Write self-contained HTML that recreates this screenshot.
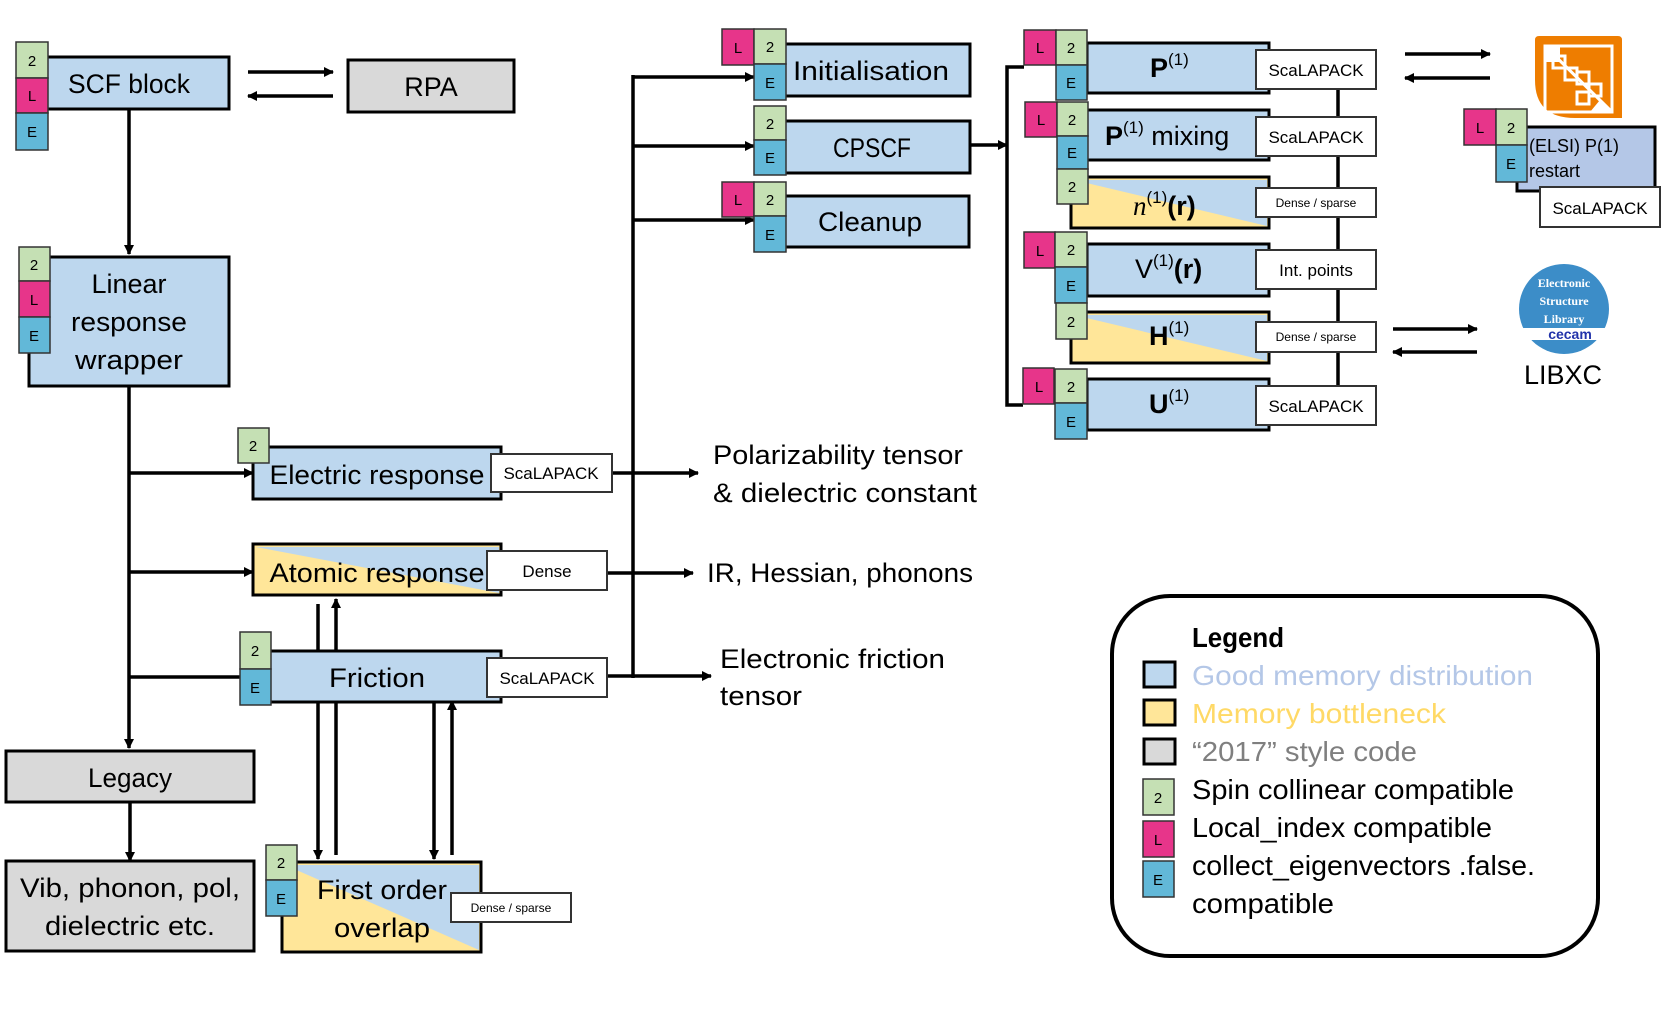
<!DOCTYPE html>
<html><head><meta charset="utf-8"><style>
html,body{margin:0;padding:0;background:#fff;}
svg{display:block;font-family:"Liberation Sans",sans-serif;}
</style></head><body>
<svg width="1661" height="1009" viewBox="0 0 1661 1009" xmlns="http://www.w3.org/2000/svg">
<defs>
<marker id="ah" markerWidth="10" markerHeight="10" refX="9" refY="5" orient="auto" markerUnits="userSpaceOnUse">
<path d="M0,0 L10,5 L0,10 z" fill="#000"/></marker>
</defs>
<g stroke="#000" stroke-width="3.5" fill="none">
<line x1="248" y1="72" x2="333" y2="72" marker-end="url(#ah)"/>
<line x1="333" y1="96" x2="248" y2="96" marker-end="url(#ah)"/>
<line x1="129" y1="109" x2="129" y2="254" marker-end="url(#ah)"/>
<line x1="129" y1="386" x2="129" y2="748" marker-end="url(#ah)"/>
<line x1="129" y1="473" x2="253" y2="473" marker-end="url(#ah)"/>
<line x1="129" y1="572" x2="253" y2="572" marker-end="url(#ah)"/>
<line x1="129" y1="677" x2="240" y2="677"/>
<line x1="130" y1="802" x2="130" y2="861" marker-end="url(#ah)"/>
<line x1="318" y1="604" x2="318" y2="651"/>
<line x1="336" y1="651" x2="336" y2="599" marker-end="url(#ah)"/>
<line x1="318" y1="702" x2="318" y2="859" marker-end="url(#ah)"/>
<line x1="336" y1="855" x2="336" y2="702"/>
<line x1="434" y1="702" x2="434" y2="859" marker-end="url(#ah)"/>
<line x1="452" y1="855" x2="452" y2="701" marker-end="url(#ah)"/>
<line x1="612" y1="473" x2="698" y2="473" marker-end="url(#ah)"/>
<line x1="607" y1="573" x2="693" y2="573" marker-end="url(#ah)"/>
<line x1="607" y1="676" x2="711" y2="676" marker-end="url(#ah)"/>
<line x1="633" y1="75" x2="633" y2="678"/>
<line x1="633" y1="77" x2="754" y2="77" marker-end="url(#ah)"/>
<line x1="633" y1="146" x2="754" y2="146" marker-end="url(#ah)"/>
<line x1="633" y1="220" x2="754" y2="220" marker-end="url(#ah)"/>
<line x1="970" y1="145" x2="1007" y2="145" marker-end="url(#ah)"/>
<polyline points="1024,67 1007,67 1007,405 1023,405"/>
<line x1="1338" y1="89" x2="1338" y2="386"/>
<line x1="1405" y1="54" x2="1490" y2="54" marker-end="url(#ah)"/>
<line x1="1490" y1="78" x2="1405" y2="78" marker-end="url(#ah)"/>
<line x1="1393" y1="329" x2="1477" y2="329" marker-end="url(#ah)"/>
<line x1="1477" y1="352" x2="1393" y2="352" marker-end="url(#ah)"/>
</g>

<g stroke="#000" stroke-width="3">
<rect x="47" y="57" width="182" height="52" fill="#bdd7ee"/>
<rect x="348" y="60" width="166" height="52" fill="#d9d9d9"/>
<rect x="29" y="257" width="200" height="129" fill="#bdd7ee"/>
<rect x="253" y="447" width="248" height="52" fill="#bdd7ee"/>
<rect x="253" y="544" width="248" height="51" fill="#ffe699"/>
<rect x="270" y="651" width="231" height="51" fill="#bdd7ee"/>
<rect x="6" y="751" width="248" height="51" fill="#d9d9d9"/>
<rect x="6" y="861" width="248" height="90" fill="#d9d9d9"/>
<rect x="282" y="862" width="199" height="90" fill="#ffe699"/>
<rect x="785" y="44" width="185" height="52" fill="#bdd7ee"/>
<rect x="785" y="121" width="185" height="52" fill="#bdd7ee"/>
<rect x="785" y="196" width="184" height="51" fill="#bdd7ee"/>
<rect x="1087" y="43" width="182" height="50" fill="#bdd7ee"/>
<rect x="1087" y="110" width="182" height="50" fill="#bdd7ee"/>
<rect x="1071" y="177" width="198" height="51" fill="#ffe699"/>
<rect x="1087" y="244" width="182" height="52" fill="#bdd7ee"/>
<rect x="1071" y="312" width="198" height="51" fill="#ffe699"/>
<rect x="1087" y="379" width="182" height="51" fill="#bdd7ee"/>
<rect x="1517" y="127" width="138" height="64" fill="#b4c7e7"/>
</g>
<g fill="#bdd7ee">
<polygon points="256,547 499,547 499,593"/>
<polygon points="285,865 479,865 479,950"/>
<polygon points="1074,180 1267,180 1267,226"/>
<polygon points="1074,315 1267,315 1267,361"/>
</g>

<g stroke="#333" stroke-width="2" fill="#fff">
<rect x="491" y="454" width="121" height="38"/>
<rect x="487" y="551" width="120" height="39"/>
<rect x="487" y="658" width="120" height="39"/>
<rect x="451" y="893" width="120" height="29"/>
<rect x="1256" y="50" width="120" height="39"/>
<rect x="1256" y="117" width="120" height="39"/>
<rect x="1256" y="188" width="120" height="29"/>
<rect x="1256" y="250" width="120" height="39"/>
<rect x="1256" y="322" width="120" height="30"/>
<rect x="1256" y="386" width="120" height="39"/>
<rect x="1540" y="187" width="120" height="40"/>
</g>

<g stroke="#333" stroke-width="1.5" font-size="15" text-anchor="middle">
<rect x="16" y="42" width="32" height="36" fill="#c5e0b4"/><text x="32" y="66" stroke="none">2</text>
<rect x="16" y="78" width="32" height="35" fill="#e7358a"/><text x="32" y="101" stroke="none">L</text>
<rect x="16" y="113" width="32" height="37" fill="#62b8d8"/><text x="32" y="137" stroke="none">E</text>
<rect x="19" y="247" width="31" height="34" fill="#c5e0b4"/><text x="34" y="270" stroke="none">2</text>
<rect x="19" y="281" width="31" height="36" fill="#e7358a"/><text x="34" y="305" stroke="none">L</text>
<rect x="19" y="317" width="31" height="36" fill="#62b8d8"/><text x="34" y="341" stroke="none">E</text>
<rect x="238" y="428" width="31" height="35" fill="#c5e0b4"/><text x="253" y="451" stroke="none">2</text>
<rect x="240" y="632" width="31" height="37" fill="#c5e0b4"/><text x="255" y="656" stroke="none">2</text>
<rect x="240" y="669" width="31" height="36" fill="#62b8d8"/><text x="255" y="693" stroke="none">E</text>
<rect x="266" y="845" width="31" height="35" fill="#c5e0b4"/><text x="281" y="868" stroke="none">2</text>
<rect x="266" y="880" width="31" height="36" fill="#62b8d8"/><text x="281" y="904" stroke="none">E</text>
<rect x="722" y="29" width="32" height="36" fill="#e7358a"/><text x="738" y="53" stroke="none">L</text>
<rect x="754" y="29" width="32" height="35" fill="#c5e0b4"/><text x="770" y="52" stroke="none">2</text>
<rect x="754" y="64" width="32" height="36" fill="#62b8d8"/><text x="770" y="88" stroke="none">E</text>
<rect x="754" y="106" width="32" height="34" fill="#c5e0b4"/><text x="770" y="129" stroke="none">2</text>
<rect x="754" y="140" width="32" height="35" fill="#62b8d8"/><text x="770" y="163" stroke="none">E</text>
<rect x="722" y="182" width="32" height="35" fill="#e7358a"/><text x="738" y="205" stroke="none">L</text>
<rect x="754" y="182" width="32" height="34" fill="#c5e0b4"/><text x="770" y="205" stroke="none">2</text>
<rect x="754" y="216" width="32" height="36" fill="#62b8d8"/><text x="770" y="240" stroke="none">E</text>
<rect x="1024" y="30" width="32" height="35" fill="#e7358a"/><text x="1040" y="53" stroke="none">L</text>
<rect x="1056" y="30" width="31" height="35" fill="#c5e0b4"/><text x="1071" y="53" stroke="none">2</text>
<rect x="1056" y="65" width="31" height="35" fill="#62b8d8"/><text x="1071" y="88" stroke="none">E</text>
<rect x="1025" y="102" width="32" height="35" fill="#e7358a"/><text x="1041" y="125" stroke="none">L</text>
<rect x="1057" y="102" width="31" height="34" fill="#c5e0b4"/><text x="1072" y="125" stroke="none">2</text>
<rect x="1057" y="136" width="31" height="33" fill="#62b8d8"/><text x="1072" y="158" stroke="none">E</text>
<rect x="1057" y="169" width="31" height="35" fill="#c5e0b4"/><text x="1072" y="192" stroke="none">2</text>
<rect x="1024" y="232" width="31" height="36" fill="#e7358a"/><text x="1040" y="256" stroke="none">L</text>
<rect x="1055" y="232" width="32" height="35" fill="#c5e0b4"/><text x="1071" y="255" stroke="none">2</text>
<rect x="1055" y="267" width="32" height="36" fill="#62b8d8"/><text x="1071" y="291" stroke="none">E</text>
<rect x="1056" y="303" width="31" height="36" fill="#c5e0b4"/><text x="1071" y="327" stroke="none">2</text>
<rect x="1023" y="368" width="31" height="36" fill="#e7358a"/><text x="1039" y="392" stroke="none">L</text>
<rect x="1055" y="369" width="32" height="34" fill="#c5e0b4"/><text x="1071" y="392" stroke="none">2</text>
<rect x="1055" y="403" width="32" height="36" fill="#62b8d8"/><text x="1071" y="427" stroke="none">E</text>
<rect x="1464" y="109" width="32" height="36" fill="#e7358a"/><text x="1480" y="133" stroke="none">L</text>
<rect x="1496" y="109" width="31" height="36" fill="#c5e0b4"/><text x="1511" y="133" stroke="none">2</text>
<rect x="1496" y="145" width="31" height="37" fill="#62b8d8"/><text x="1511" y="169" stroke="none">E</text>
</g>

<g font-size="27" fill="#000" text-anchor="middle">
<text x="129" y="93" textLength="122" lengthAdjust="spacingAndGlyphs">SCF block</text>
<text x="431" y="96">RPA</text>
<text x="129" y="293">Linear</text>
<text x="129" y="331" textLength="116" lengthAdjust="spacingAndGlyphs">response</text>
<text x="129" y="369" textLength="108" lengthAdjust="spacingAndGlyphs">wrapper</text>
<text x="377" y="484" textLength="215" lengthAdjust="spacingAndGlyphs">Electric response</text>
<text x="377" y="582" textLength="215" lengthAdjust="spacingAndGlyphs">Atomic response</text>
<text x="377" y="687" textLength="96" lengthAdjust="spacingAndGlyphs">Friction</text>
<text x="130" y="787" textLength="84" lengthAdjust="spacingAndGlyphs">Legacy</text>
<text x="130" y="897" textLength="220" lengthAdjust="spacingAndGlyphs">Vib, phonon, pol,</text>
<text x="130" y="935" textLength="170" lengthAdjust="spacingAndGlyphs">dielectric etc.</text>
<text x="382" y="899" textLength="130" lengthAdjust="spacingAndGlyphs">First order</text>
<text x="382" y="937" textLength="96" lengthAdjust="spacingAndGlyphs">overlap</text>
<text x="871" y="80" textLength="156" lengthAdjust="spacingAndGlyphs">Initialisation</text>
<text x="872" y="157" textLength="78" lengthAdjust="spacingAndGlyphs">CPSCF</text>
<text x="870" y="231" textLength="104" lengthAdjust="spacingAndGlyphs">Cleanup</text>
</g>
<g font-size="27" fill="#000">
<text x="1150" y="77" font-weight="bold">P<tspan font-weight="normal" font-size="17" dy="-12">(1)</tspan></text>
<text x="1105" y="145"><tspan font-weight="bold">P</tspan><tspan font-size="17" dy="-12">(1)</tspan><tspan dy="12"> mixing</tspan></text>
<text x="1133" y="215"><tspan font-family="Liberation Serif,serif" font-style="italic">n</tspan><tspan font-size="17" dy="-12">(1)</tspan><tspan dy="12" font-weight="bold">(r)</tspan></text>
<text x="1135" y="278">V<tspan font-size="17" dy="-12">(1)</tspan><tspan dy="12" font-weight="bold">(r)</tspan></text>
<text x="1149" y="345" font-weight="bold">H<tspan font-weight="normal" font-size="17" dy="-12">(1)</tspan></text>
<text x="1149" y="413" font-weight="bold">U<tspan font-weight="normal" font-size="17" dy="-12">(1)</tspan></text>
</g>

<g font-size="17" text-anchor="middle" fill="#000">
<text x="551" y="479">ScaLAPACK</text>
<text x="547" y="577">Dense</text>
<text x="547" y="684">ScaLAPACK</text>
<text x="1316" y="76">ScaLAPACK</text>
<text x="1316" y="143">ScaLAPACK</text>
<text x="1316" y="276">Int. points</text>
<text x="1316" y="412">ScaLAPACK</text>
<text x="1600" y="214">ScaLAPACK</text>
</g>
<g font-size="12" text-anchor="middle" fill="#000">
<text x="511" y="912">Dense / sparse</text>
<text x="1316" y="207">Dense / sparse</text>
<text x="1316" y="341">Dense / sparse</text>
</g>
<g font-size="18" fill="#000">
<text x="1529" y="152">(ELSI) P(1)</text>
<text x="1529" y="177">restart</text>
</g>

<g font-size="27" fill="#000">
<text x="713" y="464" textLength="250" lengthAdjust="spacingAndGlyphs">Polarizability tensor</text>
<text x="713" y="502" textLength="264" lengthAdjust="spacingAndGlyphs">&amp; dielectric constant</text>
<text x="707" y="582" textLength="266" lengthAdjust="spacingAndGlyphs">IR, Hessian, phonons</text>
<text x="720" y="668" textLength="225" lengthAdjust="spacingAndGlyphs">Electronic friction</text>
<text x="720" y="705" textLength="82" lengthAdjust="spacingAndGlyphs">tensor</text>
</g>

<!-- orange logo -->
<path d="M1535,40 Q1535,36 1539,36 L1618,36 Q1622,36 1622,40 L1622,118 L1575,118 Q1535,118 1535,80 Z" fill="#ee7d00"/>
<rect x="1545" y="46" width="67" height="66" fill="none" stroke="#fff" stroke-width="3"/>
<g fill="none" stroke="#fff" stroke-width="3">
<rect x="1553" y="56" width="12" height="12"/>
<rect x="1565" y="68" width="12" height="12"/>
<rect x="1577" y="72" width="12" height="12"/>
<rect x="1589" y="84" width="12" height="12"/>
<rect x="1577" y="92" width="12" height="12"/>
</g>
<polygon points="1545,46 1560,46 1560,62 1545,62" fill="#fff"/>
<polygon points="1600,100 1612,112 1590,112" fill="#fff"/>
<line x1="1545" y1="46" x2="1612" y2="112" stroke="#fff" stroke-width="3"/>

<circle cx="1564" cy="309" r="45" fill="#3c8dc8"/>
<path d="M1523,328 L1605,328 A45,45 0 0 1 1600,340 L1528,340 A45,45 0 0 1 1523,328 Z" fill="#fff"/>
<g font-family="Liberation Serif,serif" font-weight="bold" font-size="12" fill="#fff" text-anchor="middle">
<text x="1564" y="287">Electronic</text>
<text x="1564" y="305">Structure</text>
<text x="1564" y="323">Library</text>
</g>
<text x="1570" y="339" font-size="14" font-weight="bold" fill="#2233aa" text-anchor="middle">cecam</text>
<text x="1563" y="384" font-size="27" text-anchor="middle" fill="#000">LIBXC</text>

<rect x="1112" y="596" width="486" height="360" rx="58" ry="58" fill="#fff" stroke="#000" stroke-width="4"/>
<g stroke="#000" stroke-width="3">
<rect x="1144" y="662" width="31" height="25" fill="#bdd7ee"/>
<rect x="1144" y="700" width="31" height="25" fill="#ffe699"/>
<rect x="1144" y="739" width="31" height="25" fill="#d9d9d9"/>
</g>
<g stroke="#333" stroke-width="1.5" font-size="15" text-anchor="middle">
<rect x="1143" y="779" width="31" height="36" fill="#c5e0b4"/><text x="1158" y="803" stroke="none">2</text>
<rect x="1143" y="821" width="31" height="36" fill="#e7358a"/><text x="1158" y="845" stroke="none">L</text>
<rect x="1143" y="861" width="31" height="36" fill="#62b8d8"/><text x="1158" y="885" stroke="none">E</text>
</g>
<g font-size="28">
<text x="1192" y="647" font-weight="bold" textLength="92" lengthAdjust="spacingAndGlyphs">Legend</text>
<text x="1192" y="685" fill="#b4c7e7" textLength="341" lengthAdjust="spacingAndGlyphs">Good memory distribution</text>
<text x="1192" y="723" fill="#ffd966" textLength="254" lengthAdjust="spacingAndGlyphs">Memory bottleneck</text>
<text x="1192" y="761" fill="#7f7f7f" textLength="225" lengthAdjust="spacingAndGlyphs">“2017” style code</text>
<text x="1192" y="799" textLength="322" lengthAdjust="spacingAndGlyphs">Spin collinear compatible</text>
<text x="1192" y="837" textLength="300" lengthAdjust="spacingAndGlyphs">Local_index compatible</text>
<text x="1192" y="875" textLength="343" lengthAdjust="spacingAndGlyphs">collect_eigenvectors .false.</text>
<text x="1192" y="913" textLength="142" lengthAdjust="spacingAndGlyphs">compatible</text>
</g>
</svg>
</body></html>
